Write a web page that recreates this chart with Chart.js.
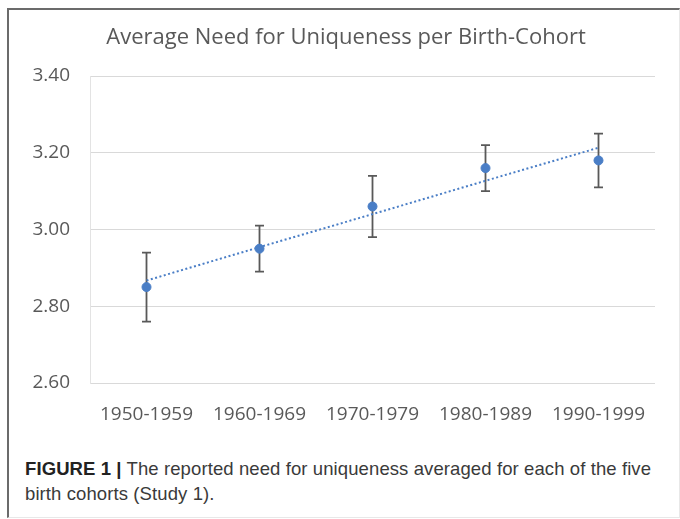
<!DOCTYPE html>
<html>
<head>
<meta charset="utf-8">
<script src="https://cdn.jsdelivr.net/npm/chart.js"></script>
<style>
  body { margin: 0; background: #fff; }
  #frame {
    position: absolute; left: 7px; top: 8px; width: 670px; height: 507px;
    border-top: 2px solid #6b6b6b; border-left: 2px solid #6b6b6b;
    border-right: 1px solid #e8e8e8; border-bottom: 1px solid #e8e8e8;
  }
  #canvaContainer { position: absolute; left: 0; top: 0; width: 670px; height: 425px; }
  #caption {
    position: absolute; left: 16px; top: 446px; width: 654px;
    font-family: "Liberation Sans", Arial, sans-serif; font-size: 18.5px; line-height: 25px;
    letter-spacing: 0.1px; color: #3a3a3a;
  }
  #caption b { color: #222; }
</style>
</head>
<body>
<div id="frame">
  <div id="canvaContainer"><canvas id="myChart"></canvas></div>
  <div id="caption"><b>FIGURE 1 |</b> The reported need for uniqueness averaged for each of the five<br>birth cohorts (Study 1).</div>
</div>
<script>
const cohorts = ['1950-1959', '1960-1969', '1970-1979', '1980-1989', '1990-1999']
const means = [2.85, 2.95, 3.06, 3.16, 3.18]
const errLow = [2.76, 2.89, 2.98, 3.10, 3.11]
const errHigh = [2.94, 3.01, 3.14, 3.22, 3.25]
const trend = [2.867, 2.954, 3.040, 3.127, 3.213]
const yTicks = [2.60, 2.80, 3.00, 3.20, 3.40]

const blue = '#4a7ec6'
const textGray = '#595959'

// error bars, drawn behind the points
const errorBars = {
    id: 'errorBars',
    afterLayout(chart) {
        // title in the original sits a bit right of the canvas centre
        chart.titleBlock.left += 14
        chart.titleBlock.right += 14
    },
    beforeDatasetsDraw(chart) {
        const ctx = chart.ctx
        const x = chart.scales.x
        const y = chart.scales.y
        ctx.save()
        ctx.strokeStyle = '#595959'
        ctx.lineWidth = 1.8
        cohorts.forEach((c, i) => {
            const px = x.getPixelForValue(i)
            const top = y.getPixelForValue(errHigh[i])
            const bot = y.getPixelForValue(errLow[i])
            ctx.beginPath()
            ctx.moveTo(px, top); ctx.lineTo(px, bot)
            ctx.moveTo(px - 4.5, top); ctx.lineTo(px + 4.5, top)
            ctx.moveTo(px - 4.5, bot); ctx.lineTo(px + 4.5, bot)
            ctx.stroke()
        })
        ctx.restore()
    }
}

const ctx = document.getElementById('myChart')

new Chart(ctx, {
    type: 'line',
    data: {
        labels: cohorts,
        datasets: [{
            label: 'Mean',
            data: means,
            showLine: false,
            pointRadius: 4.5,
            pointBackgroundColor: blue,
            pointBorderColor: blue,
            order: 0
        }, {
            label: 'Trend',
            data: trend,
            borderColor: blue,
            borderWidth: 2,
            borderDash: [2, 2.5],
            pointRadius: 0,
            order: 1
        }]
    },
    options: {
        responsive: true,
        maintainAspectRatio: false,
        animation: false,
        layout: { padding: { left: 0, right: 24, top: 0, bottom: 0 } },
        plugins: {
            legend: { display: false },
            tooltip: { enabled: false },
            title: {
                display: true,
                text: 'Average Need for Uniqueness per Birth-Cohort',
                color: textGray,
                font: { family: 'Open Sans', size: 22, weight: 'normal' },
                padding: { top: 15, bottom: 24.6 }
            }
        },
        scales: {
            x: {
                offset: true,
                grid: { display: false },
                border: { display: false },
                ticks: {
                    color: textGray,
                    padding: 12,
                    maxRotation: 0,
                    font: { family: 'Open Sans', size: 19 }
                },
                afterFit: (scale) => { scale.height = 52 }
            },
            y: {
                min: 2.6,
                max: 3.4,
                afterBuildTicks: (scale) => { scale.ticks = yTicks.map(v => ({ value: v })) },
                grid: { color: '#d9d9d9', lineWidth: 1, drawTicks: false },
                border: { display: true, color: '#e3e3e3' },
                ticks: {
                    color: textGray,
                    padding: 20,
                    font: { family: 'Open Sans', size: 19 },
                    callback: (v) => v.toFixed(2)
                },
                afterFit: (scale) => { scale.width = 81 }
            }
        }
    },
    plugins: [errorBars]
})
</script>
</body>
</html>
